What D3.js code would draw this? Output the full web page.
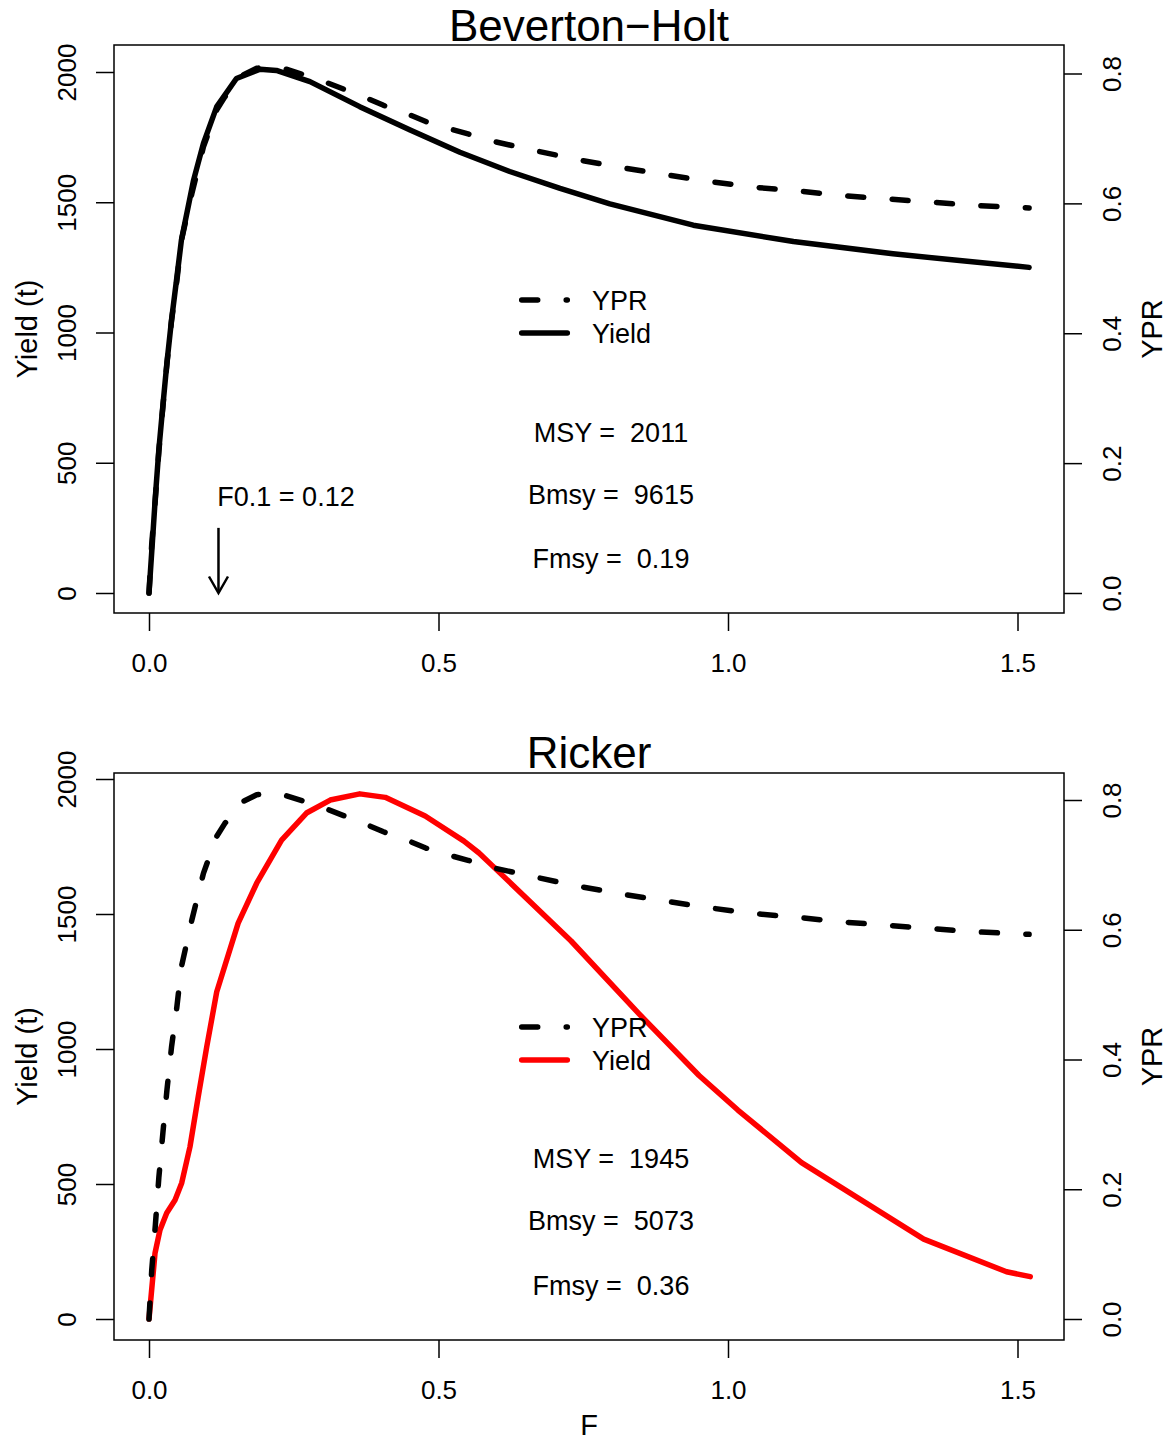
<!DOCTYPE html>
<html>
<head>
<meta charset="utf-8">
<script src="https://cdn.jsdelivr.net/npm/d3@7"></script>
<style>
body { margin: 0; background: #fff; }
text { font-family: "Liberation Sans", Arial, Helvetica, sans-serif; fill: #000; }
</style>
</head>
<body>
<svg id="chart" width="1169" height="1441"></svg>
<script>
'use strict';

// yield per recruit vs F (identical in both panels)
var yprF = [0, 0.0047, 0.011, 0.017, 0.024, 0.031, 0.039, 0.048, 0.056, 0.074, 0.094, 0.117, 0.131, 0.163,
    0.186, 0.21, 0.232, 0.264, 0.307, 0.336, 0.376, 0.405, 0.451, 0.478, 0.518, 0.551, 0.592, 0.668,
    0.742, 0.816, 0.893, 0.966, 1.044, 1.121, 1.198, 1.272, 1.349, 1.422, 1.52];
var yprValues = [0, 0.075, 0.145, 0.218, 0.287, 0.353, 0.42, 0.48, 0.543, 0.615, 0.687, 0.744, 0.764, 0.798,
    0.808, 0.811, 0.808, 0.799, 0.786, 0.776, 0.762, 0.751, 0.736, 0.726, 0.715, 0.707, 0.696, 0.681,
    0.667, 0.655, 0.644, 0.634, 0.625, 0.619, 0.612, 0.607, 0.602, 0.597, 0.593];

// Beverton-Holt equilibrium yield (t)
var bhF = [0, 0.006, 0.011, 0.017, 0.024, 0.031, 0.039, 0.048, 0.056, 0.077, 0.094, 0.117, 0.151, 0.192,
    0.22, 0.278, 0.364, 0.451, 0.537, 0.623, 0.71, 0.796, 0.94, 1.113, 1.285, 1.4, 1.52];
var bhYield = [0, 200, 370, 550, 720, 885, 1050, 1210, 1355, 1585, 1726, 1867, 1975, 2011,
    2006, 1963, 1867, 1777, 1692, 1618, 1553, 1494, 1412, 1349, 1302, 1276, 1250];

// Ricker equilibrium yield (t)
var rkF = [0, 0.0104, 0.019, 0.0306, 0.045, 0.0565, 0.0708, 0.085, 0.0997, 0.117, 0.154, 0.186, 0.229,
    0.272, 0.313, 0.364, 0.408, 0.477, 0.544, 0.57, 0.592, 0.729, 0.846, 0.95, 1.017, 1.127, 1.338, 1.481, 1.522];
var rkYield = [0, 244, 330, 393, 441, 504, 638, 823, 1008, 1212, 1466, 1614, 1774,
    1874, 1922, 1945, 1932, 1863, 1770, 1726, 1681, 1400, 1131, 902, 774, 579, 296, 175, 157];

var xTicks = [0, 0.5, 1, 1.5];
var yieldTicks = [0, 500, 1000, 1500, 2000];
var yprTicks = [0, 0.2, 0.4, 0.6, 0.8];

var bhStats = ['MSY =  2011', 'Bmsy =  9615', 'Fmsy =  0.19'];
var rkStats = ['MSY =  1945', 'Bmsy =  5073', 'Fmsy =  0.36'];
var f01 = 0.12;

var svg = d3.select('#chart');
svg.append('rect').attr('width', 1169).attr('height', 1441).attr('fill', '#fff');

var boxLeft = 114, boxRight = 1064;
var x = d3.scaleLinear().domain([0, 1.5]).range([149, 1017.5]);

function toPoints(fs, vs) {
    return fs.map(function (f, i) { return [f, vs[i]]; });
}

function drawPanel(p) {
    var g = svg.append('g');
    var yL = d3.scaleLinear().domain([0, 2000]).range([p.zero, p.y2000]);
    var yR = d3.scaleLinear().domain([0, 0.8]).range([p.zero, p.y08]);

    // left axis
    var left = g.append('g').attr('transform', 'translate(' + boxLeft + ',0)')
        .call(d3.axisLeft(yL).tickValues(yieldTicks).tickSize(18).tickFormat(d3.format('d')));
    left.select('.domain').remove();
    left.attr('font-size', 26).attr('font-family', null);
    left.selectAll('line').attr('stroke-width', 1.5);
    left.selectAll('.tick text')
        .attr('transform', 'rotate(-90)').attr('x', 0).attr('y', -38).attr('dy', 0)
        .attr('text-anchor', 'middle');

    // right axis
    var right = g.append('g').attr('transform', 'translate(' + boxRight + ',0)')
        .call(d3.axisRight(yR).tickValues(yprTicks).tickSize(18).tickFormat(d3.format('.1f')));
    right.select('.domain').remove();
    right.attr('font-size', 26).attr('font-family', null);
    right.selectAll('line').attr('stroke-width', 1.5);
    right.selectAll('.tick text')
        .attr('transform', 'rotate(-90)').attr('x', 0).attr('y', 57).attr('dy', 0)
        .attr('text-anchor', 'middle');

    // bottom axis
    var bottom = g.append('g').attr('transform', 'translate(0,' + p.bottom + ')')
        .call(d3.axisBottom(x).tickValues(xTicks).tickSize(18).tickFormat(d3.format('.1f')));
    bottom.select('.domain').remove();
    bottom.attr('font-size', 26).attr('font-family', null);
    bottom.selectAll('line').attr('stroke-width', 1.5);
    bottom.selectAll('.tick text').attr('y', 59).attr('dy', 0);

    // box
    g.append('rect')
        .attr('x', boxLeft).attr('y', p.top)
        .attr('width', boxRight - boxLeft).attr('height', p.bottom - p.top)
        .attr('fill', 'none').attr('stroke', '#000').attr('stroke-width', 1.5);

    // title and axis labels
    g.append('text').attr('x', 589).attr('y', p.titleY).attr('text-anchor', 'middle')
        .attr('font-size', 44).text(p.title);
    var midY = (p.top + p.bottom) / 2;
    g.append('text').attr('transform', 'translate(37,' + midY + ') rotate(-90)')
        .attr('text-anchor', 'middle').attr('font-size', 29).text('Yield (t)');
    g.append('text').attr('transform', 'translate(1162,' + midY + ') rotate(-90)')
        .attr('text-anchor', 'middle').attr('font-size', 29).text('YPR');

    // curves
    var yieldLine = d3.line()
        .x(function (d) { return x(d[0]); })
        .y(function (d) { return yL(d[1]); });
    var yprLine = d3.line()
        .x(function (d) { return x(d[0]); })
        .y(function (d) { return yR(d[1]); });

    g.append('path')
        .datum(toPoints(p.yieldF, p.yieldValues))
        .attr('d', yieldLine)
        .attr('fill', 'none').attr('stroke', p.color).attr('stroke-width', 5.5)
        .attr('stroke-linejoin', 'round').attr('stroke-linecap', 'round');

    g.append('path')
        .datum(toPoints(yprF, yprValues))
        .attr('d', yprLine)
        .attr('fill', 'none').attr('stroke', '#000').attr('stroke-width', 5.5)
        .attr('stroke-dasharray', '16,28.5')
        .attr('stroke-linejoin', 'round').attr('stroke-linecap', 'round');

    // legend
    var lg = g.append('g');
    var items = [
        { label: 'YPR', color: '#000', dash: '16,28.5', y: p.legendY },
        { label: 'Yield', color: p.color, dash: null, y: p.legendY + 33 }
    ];
    items.forEach(function (it) {
        lg.append('line')
            .attr('x1', 521.7).attr('x2', 567.3).attr('y1', it.y).attr('y2', it.y)
            .attr('stroke', it.color).attr('stroke-width', 5.5).attr('stroke-linecap', 'round')
            .attr('stroke-dasharray', it.dash);
        lg.append('text').attr('x', 592).attr('y', it.y + 10).attr('font-size', 27).text(it.label);
    });

    // stats
    p.stats.forEach(function (s, i) {
        g.append('text').attr('x', 611).attr('y', p.statsY[i])
            .attr('text-anchor', 'middle').attr('font-size', 27)
            .style('white-space', 'pre').text(s);
    });

    return { g: g, yL: yL };
}

var topPanel = drawPanel({
    title: 'Beverton\u2212Holt', top: 45, bottom: 613, zero: 593, y2000: 72, y08: 73.5, titleY: 41,
    yieldF: bhF, yieldValues: bhYield, color: '#000',
    legendY: 300, stats: bhStats, statsY: [442, 504, 568]
});

drawPanel({
    title: 'Ricker', top: 773, bottom: 1340, zero: 1319, y2000: 779, y08: 800, titleY: 768,
    yieldF: rkF, yieldValues: rkYield, color: '#ff0000',
    legendY: 1027, stats: rkStats, statsY: [1168, 1230, 1295]
});

// F0.1 arrow in the top panel
var ax = x(f01), ay0 = topPanel.yL(250), ay1 = topPanel.yL(0);
topPanel.g.append('line').attr('x1', ax).attr('x2', ax).attr('y1', ay0).attr('y2', ay1)
    .attr('stroke', '#000').attr('stroke-width', 2.5);
topPanel.g.append('path')
    .attr('d', 'M' + (ax - 9.5) + ',' + (ay1 - 16.5) + 'L' + ax + ',' + ay1 + 'L' + (ax + 9.5) + ',' + (ay1 - 16.5))
    .attr('fill', 'none').attr('stroke', '#000').attr('stroke-width', 2.5);
topPanel.g.append('text').attr('x', 286).attr('y', 506).attr('text-anchor', 'middle')
    .attr('font-size', 27).text('F0.1 = ' + f01);

// shared x label
svg.append('text').attr('x', 589).attr('y', 1435).attr('text-anchor', 'middle')
    .attr('font-size', 29).text('F');
</script>
</body>
</html>
